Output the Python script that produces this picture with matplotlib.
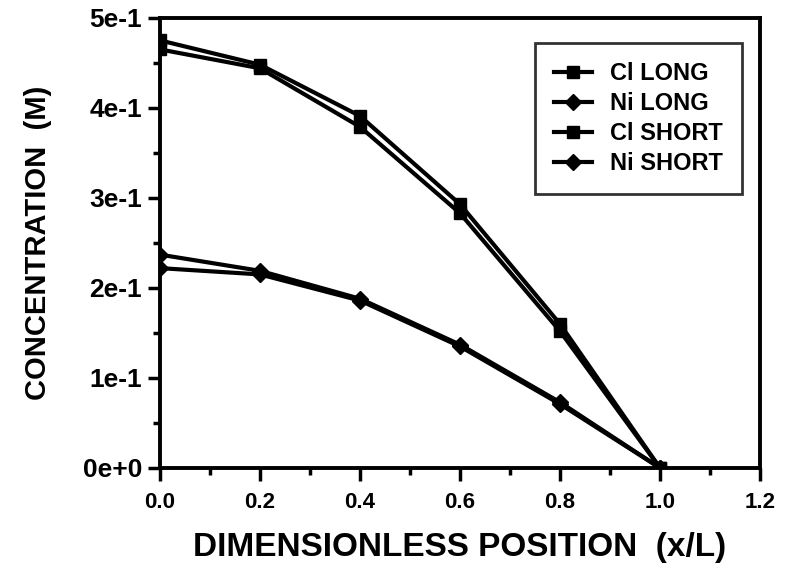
import matplotlib
matplotlib.use("Agg")
import matplotlib.pyplot as plt
from matplotlib.ticker import MultipleLocator

x_pos = [0.0, 0.2, 0.4, 0.6, 0.8, 1.0]
cl_long = [0.475, 0.448, 0.391, 0.293, 0.160, 0.0]
ni_long = [0.237, 0.219, 0.188, 0.137, 0.073, 0.0]
cl_short = [0.465, 0.444, 0.379, 0.283, 0.152, 0.0]
ni_short = [0.222, 0.215, 0.186, 0.135, 0.071, 0.0]

x_ticks = [0.0, 0.2, 0.4, 0.6, 0.8, 1.0, 1.2]
x_tick_labels = ["0.0", "0.2", "0.4", "0.6", "0.8", "1.0", "1.2"]
y_ticks = [0.0, 0.1, 0.2, 0.3, 0.4, 0.5]
y_tick_labels = ["0e+0", "1e-1", "2e-1", "3e-1", "4e-1", "5e-1"]

plt.rcParams["font.family"] = ["Liberation Sans", "DejaVu Sans"]

fig = plt.figure(figsize=(7.9, 5.77), dpi=100)
ax = fig.add_axes([0.2025, 0.189, 0.7595, 0.78])

series = [
    (cl_long, "s", "Cl LONG"),
    (ni_long, "D", "Ni LONG"),
    (cl_short, "s", "Cl SHORT"),
    (ni_short, "D", "Ni SHORT"),
]
for ys, mk, lab in series:
    ax.plot(x_pos, ys, color="black", lw=3, marker=mk,
            markersize=9 if mk == "s" else 8, markerfacecolor="black",
            markeredgecolor="black", label=lab)

ax.set_xlim(0.0, 1.2)
ax.set_ylim(0.0, 0.5)
ax.set_xticks(x_ticks)
ax.set_xticklabels(x_tick_labels)
ax.xaxis.set_minor_locator(MultipleLocator(0.1))
ax.set_yticks(y_ticks)
ax.set_yticklabels(y_tick_labels)
ax.yaxis.set_minor_locator(MultipleLocator(0.05))

for side in ["left", "right", "top", "bottom"]:
    ax.spines[side].set_linewidth(2.8)

ax.tick_params(axis="both", which="major", direction="out", length=9, width=2.5)
ax.tick_params(axis="both", which="minor", direction="out", length=5, width=2.5)
ax.tick_params(axis="x", labelsize=16, pad=8)
ax.tick_params(axis="y", labelsize=19, pad=4)
for lbl in ax.get_xticklabels() + ax.get_yticklabels():
    lbl.set_fontweight("bold")

ax.set_xlabel("DIMENSIONLESS POSITION  (x/L)", fontsize=24, fontweight="bold", labelpad=14)
ax.set_ylabel("CONCENTRATION  (M)", fontsize=21, fontweight="bold", labelpad=22)

leg = ax.legend(loc="upper right", bbox_to_anchor=(0.99, 0.97), frameon=True,
                fancybox=False, edgecolor="black", fontsize=17, handlelength=1.6,
                borderpad=0.8, labelspacing=0.3, handletextpad=0.8)
leg.get_frame().set_linewidth(2)
for t in leg.get_texts():
    t.set_fontweight("bold")

fig.savefig("out.png", dpi=100)
